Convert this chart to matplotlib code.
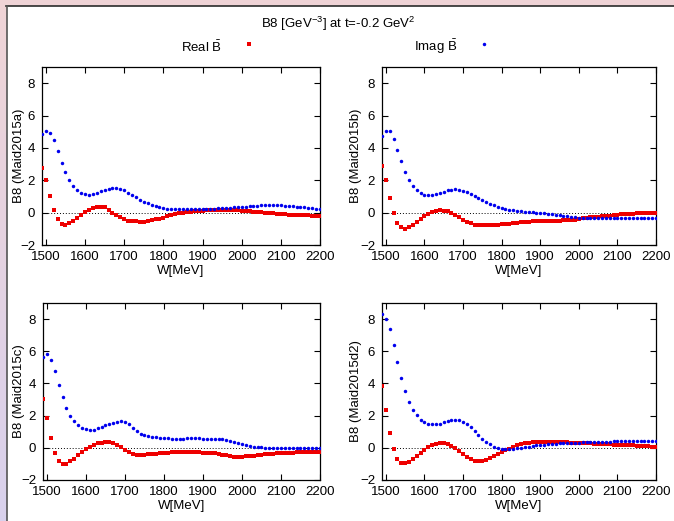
import numpy as np
import matplotlib
matplotlib.use("Agg")
import matplotlib.pyplot as plt
from matplotlib.patches import Rectangle
from matplotlib.lines import Line2D

plt.rcParams['font.family'] = ['Liberation Sans', 'DejaVu Sans']
plt.rcParams['mathtext.fontset'] = 'custom'
plt.rcParams['mathtext.rm'] = 'Liberation Sans'
plt.rcParams['mathtext.it'] = 'Liberation Sans:italic'
plt.rcParams['mathtext.bf'] = 'Liberation Sans:bold'

W = list(range(1490, 2201, 10))

real_a = [2.78, 2.03, 1.04, 0.15, -0.41, -0.70, -0.77, -0.64, -0.50, -0.33,
          -0.15, 0.04, 0.17, 0.27, 0.35, 0.35, 0.33, 0.17, -0.02, -0.15,
          -0.27, -0.37, -0.50, -0.54, -0.54, -0.58, -0.56, -0.50, -0.46, -0.41,
          -0.37, -0.31, -0.23, -0.17, -0.10, -0.04, 0.00, 0.04, 0.07, 0.10,
          0.12, 0.13, 0.14, 0.15, 0.15, 0.16, 0.16, 0.16, 0.15, 0.15,
          0.14, 0.13, 0.11, 0.09, 0.06, 0.04, 0.02, 0.00, -0.03, -0.05,
          -0.07, -0.09, -0.11, -0.12, -0.13, -0.15, -0.16, -0.17, -0.17, -0.18,
          -0.18, -0.19]
imag_a = [4.83, 5.02, 4.91, 4.46, 3.79, 3.09, 2.49, 2.01, 1.64, 1.39,
          1.22, 1.14, 1.12, 1.16, 1.24, 1.33, 1.41, 1.47, 1.51, 1.51,
          1.45, 1.37, 1.24, 1.10, 0.95, 0.81, 0.68, 0.58, 0.48, 0.39,
          0.33, 0.27, 0.23, 0.21, 0.20, 0.20, 0.20, 0.20, 0.20, 0.21,
          0.21, 0.22, 0.23, 0.24, 0.25, 0.26, 0.27, 0.29, 0.30, 0.32,
          0.33, 0.35, 0.37, 0.39, 0.41, 0.43, 0.45, 0.46, 0.47, 0.47,
          0.46, 0.45, 0.43, 0.41, 0.39, 0.37, 0.35, 0.32, 0.30, 0.27,
          0.25, 0.22]

real_b = [2.89, 2.02, 0.93, -0.02, -0.64, -0.89, -0.99, -0.87, -0.74, -0.58,
          -0.39, -0.21, -0.08, 0.04, 0.12, 0.19, 0.10, 0.08, -0.02, -0.14,
          -0.27, -0.45, -0.56, -0.64, -0.74, -0.76, -0.76, -0.76, -0.76, -0.76,
          -0.74, -0.70, -0.70, -0.68, -0.64, -0.62, -0.60, -0.58, -0.56, -0.54,
          -0.54, -0.54, -0.53, -0.53, -0.52, -0.52, -0.50, -0.48, -0.46, -0.45,
          -0.43, -0.39, -0.36, -0.33, -0.30, -0.27, -0.24, -0.22, -0.20, -0.18,
          -0.16, -0.13, -0.11, -0.10, -0.08, -0.07, -0.05, -0.03, -0.02, -0.01,
          0.00, 0.00]
imag_b = [4.72, 5.07, 5.03, 4.56, 3.90, 3.18, 2.54, 2.04, 1.65, 1.40,
          1.22, 1.11, 1.07, 1.09, 1.15, 1.24, 1.30, 1.38, 1.42, 1.44,
          1.42, 1.34, 1.26, 1.13, 1.01, 0.89, 0.76, 0.64, 0.56, 0.45,
          0.37, 0.31, 0.25, 0.19, 0.14, 0.10, 0.08, 0.06, 0.04, 0.02,
          0.00, -0.02, -0.04, -0.08, -0.10, -0.14, -0.16, -0.21, -0.23, -0.25,
          -0.29, -0.31, -0.33, -0.34, -0.35, -0.35, -0.35, -0.36, -0.36, -0.36,
          -0.36, -0.36, -0.36, -0.36, -0.36, -0.36, -0.36, -0.36, -0.36, -0.36,
          -0.36, -0.36]

real_c = [3.04, 1.85, 0.60, -0.33, -0.83, -1.02, -1.00, -0.83, -0.69, -0.46,
          -0.25, -0.08, 0.08, 0.19, 0.29, 0.33, 0.35, 0.35, 0.29, 0.17,
          0.06, -0.12, -0.27, -0.40, -0.46, -0.44, -0.42, -0.40, -0.40, -0.38,
          -0.33, -0.31, -0.31, -0.28, -0.27, -0.27, -0.27, -0.27, -0.27, -0.27,
          -0.28, -0.30, -0.32, -0.33, -0.35, -0.40, -0.44, -0.47, -0.52, -0.54,
          -0.54, -0.54, -0.53, -0.50, -0.48, -0.46, -0.44, -0.40, -0.38, -0.36,
          -0.35, -0.33, -0.32, -0.32, -0.30, -0.28, -0.27, -0.27, -0.26, -0.26,
          -0.26, -0.26]
imag_c = [5.63, 5.81, 5.48, 4.77, 3.92, 3.15, 2.50, 2.00, 1.67, 1.42,
          1.25, 1.15, 1.10, 1.13, 1.21, 1.29, 1.42, 1.50, 1.56, 1.63,
          1.65, 1.60, 1.48, 1.23, 1.02, 0.88, 0.77, 0.71, 0.67, 0.65,
          0.63, 0.60, 0.58, 0.57, 0.57, 0.57, 0.57, 0.58, 0.58, 0.58,
          0.58, 0.57, 0.57, 0.56, 0.56, 0.55, 0.53, 0.50, 0.44, 0.38,
          0.29, 0.23, 0.17, 0.13, 0.08, 0.04, 0.02, 0.01, 0.00, 0.00,
          0.00, 0.00, 0.00, 0.00, 0.00, 0.00, 0.00, 0.00, 0.00, 0.00,
          0.00, 0.00]

real_d = [3.84, 2.35, 0.91, -0.08, -0.71, -0.95, -0.95, -0.87, -0.71, -0.50,
          -0.31, -0.15, 0.04, 0.15, 0.23, 0.29, 0.29, 0.23, 0.10, -0.04,
          -0.19, -0.37, -0.56, -0.68, -0.81, -0.83, -0.81, -0.75, -0.62, -0.50,
          -0.39, -0.27, -0.15, -0.06, 0.04, 0.15, 0.21, 0.27, 0.31, 0.35,
          0.36, 0.36, 0.36, 0.36, 0.36, 0.35, 0.35, 0.35, 0.34, 0.33,
          0.32, 0.31, 0.30, 0.28, 0.27, 0.26, 0.25, 0.24, 0.22, 0.21,
          0.20, 0.19, 0.18, 0.17, 0.16, 0.15, 0.14, 0.12, 0.10, 0.09,
          0.08, 0.08]
imag_d = [8.30, 8.03, 7.37, 6.37, 5.31, 4.32, 3.51, 2.86, 2.37, 2.01,
          1.74, 1.58, 1.49, 1.45, 1.47, 1.51, 1.60, 1.66, 1.70, 1.72,
          1.70, 1.62, 1.47, 1.29, 1.06, 0.79, 0.54, 0.35, 0.21, 0.08,
          0.00, -0.06, -0.08, -0.08, -0.06, -0.04, 0.00, 0.04, 0.08, 0.10,
          0.15, 0.17, 0.20, 0.22, 0.24, 0.26, 0.28, 0.29, 0.30, 0.31,
          0.32, 0.33, 0.34, 0.35, 0.36, 0.37, 0.38, 0.38, 0.39, 0.39,
          0.40, 0.40, 0.40, 0.40, 0.40, 0.40, 0.40, 0.41, 0.41, 0.41,
          0.41, 0.41]

models = ["Maid2015a", "Maid2015b", "Maid2015c", "Maid2015d2"]
reals = [real_a, real_b, real_c, real_d]
imags = [imag_a, imag_b, imag_c, imag_d]
xticks = [1500, 1600, 1700, 1800, 1900, 2000, 2100, 2200]
yticks = [-2, 0, 2, 4, 6, 8]

FW, FH = 674, 521
fig = plt.figure(figsize=(FW / 100, FH / 100), dpi=100)
fig.patch.set_facecolor('#efd3d6')

# window frame: left gradient strip
bg = fig.add_axes([0, 0, 7 / FW, 1])
grad = np.linspace(0, 1, 256).reshape(-1, 1)
top_c = np.array([0.94, 0.83, 0.84])
bot_c = np.array([0.85, 0.82, 0.93])
img = top_c[None, None, :] * (1 - grad[..., None]) + bot_c[None, None, :] * grad[..., None]
bg.imshow(img, aspect='auto', extent=[0, 1, 0, 1], origin='upper')
bg.set_axis_off()

fig.add_artist(Rectangle((7 / FW, 0), 1 - 7 / FW, 1 - 6 / FH, transform=fig.transFigure,
                         facecolor='white', edgecolor='none', zorder=0))
fig.add_artist(Line2D([6 / FW, 1], [1 - 5.5 / FH, 1 - 5.5 / FH], transform=fig.transFigure,
                      color='#2b2b2b', lw=1.2))
fig.add_artist(Line2D([6.5 / FW, 6.5 / FW], [0, 1 - 5.5 / FH], transform=fig.transFigure,
                      color='#555555', lw=1.2))

boxes = [(42, 67, 320, 245), (382, 67, 656, 245), (43, 303, 320, 480), (382, 303, 656, 480)]
ylabel_x = [25, 362, 25, 362]

for (l, t, r, b), lx, m, re, im in zip(boxes, ylabel_x, models, reals, imags):
    ax = fig.add_axes([l / FW, 1 - b / FH, (r - l) / FW, (b - t) / FH])
    ax.axhline(0, color='black', ls=(0, (1, 2)), lw=0.7, zorder=1)
    ax.plot(W, re, ls='none', marker='s', ms=2.3, mew=0, color='#ee0000', zorder=3)
    ax.plot(W, im, ls='none', marker='o', ms=2.5, mew=0, color='#0000ee', zorder=3)
    ax.set_xlim(1490, 2200)
    ax.set_ylim(-2, 9)
    ax.set_xticks(xticks)
    ax.set_yticks(yticks)
    ax.tick_params(direction='in', top=True, right=True, length=4, width=0.8,
                   labelsize=9.5, colors='black')
    ax.tick_params(axis='x', pad=4)
    ax.tick_params(axis='y', pad=5)
    for s in ax.spines.values():
        s.set_linewidth(0.9)
    ax.set_xlabel("W[MeV]", fontsize=9.5, labelpad=2)
    ax.set_ylabel("B8 (" + m + ")", fontsize=9.5)
    ax.yaxis.set_label_coords((lx - l) / (r - l), 0.5)

fig.text(338 / FW, 1 - 24 / FH, r"B8 [GeV$^{\mathregular{-3}}$] at t=-0.2 GeV$^{\mathregular{2}}$",
         ha='center', va='center', fontsize=9.5)
fig.text(222 / FW, 1 - 47 / FH, r"Real $\bar{\mathrm{B}}$", ha='right', va='center', fontsize=9.5)
fig.text(457 / FW, 1 - 47 / FH, r"Imag $\bar{\mathrm{B}}$", ha='right', va='center', fontsize=9.5)
fig.add_artist(Line2D([249 / FW], [1 - 44 / FH], transform=fig.transFigure, ls='none',
                      marker='s', ms=2.3, mew=0, color='#ee0000'))
fig.add_artist(Line2D([484 / FW], [1 - 44 / FH], transform=fig.transFigure, ls='none',
                      marker='o', ms=2.5, mew=0, color='#0000ee'))

fig.savefig("out.png", dpi=100, facecolor=fig.get_facecolor())
